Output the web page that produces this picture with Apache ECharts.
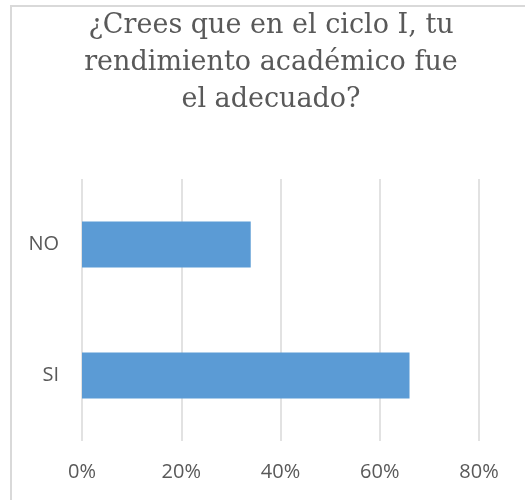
<!DOCTYPE html>
<html>
<head>
<meta charset="utf-8">
<script src="https://cdn.jsdelivr.net/npm/echarts@6/dist/echarts.min.js"></script>
<style>
  html, body { margin: 0; padding: 0; background: #fff; }
  #chart { width: 525px; height: 500px; }
</style>
</head>
<body>
<div id="chart"></div>
<script>
var categories = ['SI', 'NO']
var values = [66, 34]
var xTicks = [0, 20, 40, 60, 80]

var chart = echarts.init(document.getElementById('chart'))

chart.setOption({
  backgroundColor: '#fff',
  animation: false,
  title: {
    text: '¿Crees que en el ciclo I, tu\nrendimiento académico fue\nel adecuado?',
    left: 266,
    top: 2,
    textAlign: 'center',
    textStyle: {
      fontFamily: 'DejaVu Serif',
      fontWeight: 'normal',
      fontSize: 27,
      lineHeight: 37,
      color: '#595959'
    }
  },
  graphic: [{
    type: 'rect',
    shape: { x: 11, y: 6, width: 700, height: 700 },
    style: { fill: 'none', stroke: '#D9D9D9', lineWidth: 2 },
    silent: true
  }],
  grid: { left: 82, right: 46, top: 179, bottom: 59, containLabel: false },
  xAxis: {
    type: 'value',
    min: xTicks[0],
    max: xTicks[xTicks.length - 1],
    interval: 20,
    axisLine: { show: false },
    axisTick: { show: false },
    splitLine: { lineStyle: { color: '#D9D9D9', width: 1.5 } },
    axisLabel: {
      formatter: '{value}%',
      margin: 21,
      fontFamily: 'Open Sans',
      fontSize: 20,
      color: '#595959'
    }
  },
  yAxis: {
    type: 'category',
    data: categories,
    axisLine: { show: false },
    axisTick: { show: false },
    axisLabel: {
      margin: 23,
      fontFamily: 'Open Sans',
      fontSize: 20,
      color: '#595959'
    }
  },
  series: [{
    type: 'bar',
    data: values,
    barWidth: '35%',
    itemStyle: { color: '#5B9BD5' }
  }]
})
</script>
</body>
</html>
